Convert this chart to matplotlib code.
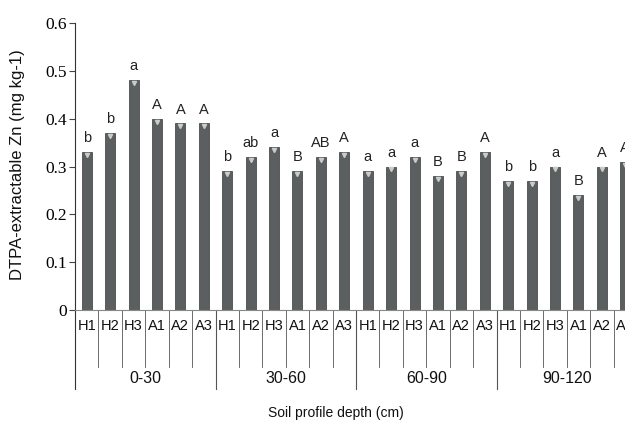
import matplotlib.pyplot as plt
import matplotlib.transforms as mtransforms

depths = ['0-30', '30-60', '60-90', '90-120']
treatments = ['H1', 'H2', 'H3', 'A1', 'A2', 'A3']

zn_0_30 = [0.33, 0.37, 0.48, 0.40, 0.39, 0.39]
zn_30_60 = [0.29, 0.32, 0.34, 0.29, 0.32, 0.33]
zn_60_90 = [0.29, 0.30, 0.32, 0.28, 0.29, 0.33]
zn_90_120 = [0.27, 0.27, 0.30, 0.24, 0.30, 0.31]

letters_0_30 = ['b', 'b', 'a', 'A', 'A', 'A']
letters_30_60 = ['b', 'ab', 'a', 'B', 'AB', 'A']
letters_60_90 = ['a', 'a', 'a', 'B', 'B', 'A']
letters_90_120 = ['b', 'b', 'a', 'B', 'A', 'A']

values = zn_0_30 + zn_30_60 + zn_60_90 + zn_90_120
letters = letters_0_30 + letters_30_60 + letters_60_90 + letters_90_120
labels = treatments * len(depths)

fig = plt.figure(figsize=(6.25, 4.25), dpi=100)
# axes run past the right edge, like the cropped original
ax = fig.add_axes([75/625, 115/425, 562/625, 287/425])

x = list(range(len(values)))
ax.bar(x, values, width=0.43, color='#5b5f60', edgecolor='#4a4d4e', linewidth=0.6)
ax.plot(x, [v - 0.006 for v in values], linestyle='none', marker='v',
        markersize=3, color='#c9cccc')

for xi, v, t in zip(x, values, letters):
    ax.annotate(t, (xi, v), xytext=(0, 5), textcoords='offset points',
                ha='center', va='bottom', fontsize=10.5, family='Liberation Sans',
                color='#222222')

ax.set_xlim(-0.5, len(values) - 0.5)
ax.set_ylim(0, 0.6)
ax.set_yticks([0, 0.1, 0.2, 0.3, 0.4, 0.5, 0.6])
ax.set_yticklabels(['0', '0.1', '0.2', '0.3', '0.4', '0.5', '0.6'],
                   family='Liberation Serif', fontsize=12.5)
ax.tick_params(axis='y', length=4, width=0.8, color='#444444', pad=2)
ax.set_xticks([])

for s in ['top', 'right']:
    ax.spines[s].set_visible(False)
ax.spines['left'].set_color('#333333')
ax.spines['bottom'].set_color('#888888')
ax.spines['bottom'].set_linewidth(0.8)

trans = mtransforms.blended_transform_factory(ax.transData, ax.transAxes)

# category table below the axis
for i, lab in enumerate(labels):
    ax.text(i, -0.056, lab, transform=trans, ha='center', va='center',
            fontsize=10.5, family='Liberation Sans', color='#111111')
for i in range(1, len(labels)):
    b = i - 0.5
    if i % len(treatments) == 0:
        ax.plot([b, b], [0, -0.275], transform=trans, color='#555555',
                linewidth=0.8, clip_on=False)
    else:
        ax.plot([b, b], [0, -0.199], transform=trans, color='#555555',
                linewidth=0.6, clip_on=False)
ax.plot([-0.5, -0.5], [0, -0.275], transform=trans, color='#333333',
        linewidth=0.8, clip_on=False)

for g, d in enumerate(depths):
    c = g * len(treatments) + (len(treatments) - 1) / 2
    ax.text(c, -0.237, d, transform=trans, ha='center', va='center',
            fontsize=11.5, family='Liberation Sans', color='#111111')

fig.text(336/625, 1 - 413/425, 'Soil profile depth (cm)', ha='center', va='center',
         fontsize=10, family='Liberation Sans', color='#111111')
fig.text(18/625, 1 - 165/425, 'DTPA-extractable Zn (mg kg-1)', ha='center',
         va='center', rotation=90, fontsize=12, family='Liberation Sans',
         color='#111111')

fig.savefig('out.png', dpi=100)
